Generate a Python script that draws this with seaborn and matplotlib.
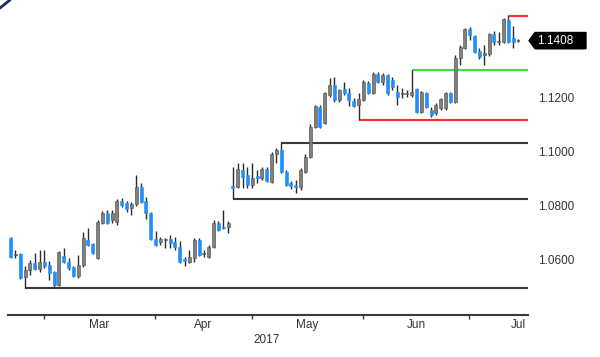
import numpy as np
import pandas as pd
import seaborn as sns
import matplotlib.pyplot as plt
import matplotlib.transforms as mtransforms
from matplotlib.patches import Polygon
from matplotlib.lines import Line2D

# Daily OHLC candles
opens = [1.0680, 1.0617, 1.0621, 1.0536, 1.0562, 1.0587, 1.0565, 1.0591, 1.0580, 1.0554,
         1.0506, 1.0613, 1.0591, 1.0573, 1.0539, 1.0580, 1.0672, 1.0658, 1.0606, 1.0735,
         1.0772, 1.0746, 1.0739, 1.0816, 1.0809, 1.0790, 1.0805, 1.0868, 1.0816, 1.0772,
         1.0676, 1.0665, 1.0672, 1.0676, 1.0665, 1.0646, 1.0602, 1.0591, 1.0606, 1.0672,
         1.0621, 1.0610, 1.0646, 1.0735, 1.0720, 1.0720, 1.0872, 1.0868, 1.0931, 1.0912,
         1.0875, 1.0908, 1.0901, 1.0934, 1.0886, 1.0990, 1.1004, 1.0923, 1.0883, 1.0875,
         1.0868, 1.0923, 1.0979, 1.1089, 1.1163, 1.1104, 1.1207, 1.1244, 1.1189, 1.1230,
         1.1215, 1.1185, 1.1170, 1.1189, 1.1252, 1.1215, 1.1285, 1.1255, 1.1281, 1.1263,
         1.1218, 1.1211, 1.1211, 1.1207, 1.1230, 1.1145, 1.1215, 1.1152, 1.1141, 1.1159,
         1.1159, 1.1215, 1.1182, 1.1344, 1.1381, 1.1451, 1.1425, 1.1370, 1.1355, 1.1359,
         1.1432, 1.1403, 1.1403, 1.1484, 1.1418, 1.1407]
closes = [1.0610, 1.0621, 1.0532, 1.0562, 1.0587, 1.0565, 1.0591, 1.0576, 1.0551, 1.0506,
          1.0628, 1.0591, 1.0569, 1.0539, 1.0580, 1.0680, 1.0654, 1.0624, 1.0739, 1.0772,
          1.0735, 1.0772, 1.0816, 1.0801, 1.0787, 1.0805, 1.0868, 1.0812, 1.0772, 1.0676,
          1.0654, 1.0676, 1.0676, 1.0661, 1.0646, 1.0591, 1.0595, 1.0610, 1.0672, 1.0617,
          1.0624, 1.0646, 1.0735, 1.0709, 1.0717, 1.0735, 1.0864, 1.0934, 1.0905, 1.0875,
          1.0901, 1.0901, 1.0934, 1.0890, 1.0990, 1.1004, 1.0923, 1.0875, 1.0872, 1.0868,
          1.0931, 1.0979, 1.1089, 1.1167, 1.1089, 1.1215, 1.1244, 1.1189, 1.1226, 1.1215,
          1.1189, 1.1167, 1.1193, 1.1255, 1.1215, 1.1285, 1.1255, 1.1281, 1.1215, 1.1237,
          1.1200, 1.1215, 1.1215, 1.1218, 1.1145, 1.1218, 1.1163, 1.1134, 1.1170, 1.1193,
          1.1215, 1.1182, 1.1344, 1.1385, 1.1451, 1.1429, 1.1366, 1.1348, 1.1362, 1.1432,
          1.1403, 1.1407, 1.1488, 1.1403, 1.1403, 1.1408]
highs = [1.0683, 1.0635, 1.0624, 1.0576, 1.0599, 1.0624, 1.0635, 1.0635, 1.0595, 1.0558,
         1.0632, 1.0643, 1.0606, 1.0576, 1.0617, 1.0702, 1.0717, 1.0661, 1.0746, 1.0779,
         1.0783, 1.0783, 1.0823, 1.0827, 1.0816, 1.0812, 1.0912, 1.0883, 1.0831, 1.0776,
         1.0706, 1.0683, 1.0680, 1.0691, 1.0683, 1.0669, 1.0610, 1.0635, 1.0680, 1.0680,
         1.0635, 1.0654, 1.0746, 1.0742, 1.0783, 1.0742, 1.0942, 1.0956, 1.0956, 1.0942,
         1.0956, 1.0931, 1.0942, 1.0942, 1.0997, 1.1012, 1.1030, 1.0931, 1.0890, 1.0894,
         1.0938, 1.0990, 1.1100, 1.1170, 1.1170, 1.1218, 1.1270, 1.1274, 1.1230, 1.1255,
         1.1233, 1.1196, 1.1215, 1.1263, 1.1259, 1.1292, 1.1292, 1.1289, 1.1285, 1.1274,
         1.1244, 1.1233, 1.1226, 1.1300, 1.1233, 1.1222, 1.1218, 1.1163, 1.1178, 1.1196,
         1.1218, 1.1218, 1.1355, 1.1392, 1.1455, 1.1458, 1.1429, 1.1381, 1.1392, 1.1436,
         1.1444, 1.1440, 1.1492, 1.1499, 1.1462, 1.1414]
lows = [1.0606, 1.0606, 1.0528, 1.0495, 1.0543, 1.0562, 1.0554, 1.0569, 1.0525, 1.0495,
        1.0502, 1.0587, 1.0562, 1.0536, 1.0532, 1.0573, 1.0650, 1.0621, 1.0602, 1.0731,
        1.0731, 1.0735, 1.0728, 1.0794, 1.0776, 1.0765, 1.0798, 1.0809, 1.0750, 1.0672,
        1.0650, 1.0654, 1.0643, 1.0643, 1.0635, 1.0587, 1.0576, 1.0587, 1.0591, 1.0613,
        1.0610, 1.0606, 1.0643, 1.0706, 1.0713, 1.0698, 1.0823, 1.0864, 1.0864, 1.0864,
        1.0864, 1.0883, 1.0894, 1.0886, 1.0883, 1.0956, 1.0920, 1.0872, 1.0861, 1.0846,
        1.0857, 1.0920, 1.0975, 1.1086, 1.1086, 1.1100, 1.1200, 1.1182, 1.1182, 1.1207,
        1.1167, 1.1163, 1.1115, 1.1185, 1.1211, 1.1211, 1.1252, 1.1244, 1.1207, 1.1226,
        1.1170, 1.1196, 1.1200, 1.1200, 1.1141, 1.1141, 1.1159, 1.1126, 1.1134, 1.1152,
        1.1152, 1.1178, 1.1178, 1.1318, 1.1377, 1.1410, 1.1362, 1.1340, 1.1318, 1.1351,
        1.1392, 1.1392, 1.1399, 1.1399, 1.1381, 1.1403]
dates = pd.bdate_range('2017-02-17', periods=len(opens))

# Support / resistance levels: start candle, price, colour
level_start = [3, 46, 56, 72, 83, 103]
level_value = [1.0495, 1.0823, 1.1030, 1.1115, 1.1300, 1.1499]
level_color = ['#3a3a3a', '#3a3a3a', '#3a3a3a', '#ff2b2b', '#3ee03e', '#ff2b2b']

ytick_values = [1.06, 1.08, 1.10, 1.12]
last_price = 1.1408
year_label = '2017'

df = pd.DataFrame({'date': dates, 'open': opens, 'high': highs,
                   'low': lows, 'close': closes})
df['x'] = np.arange(len(df))
df['up'] = df['close'] >= df['open']
df['body_lo'] = df[['open', 'close']].min(axis=1)
df['body_h'] = (df['close'] - df['open']).abs().clip(lower=0.0002)

sns.set_theme(style='white')
plt.rcParams['font.family'] = ['Liberation Sans', 'DejaVu Sans']
fs = 8.5

fig = plt.figure(figsize=(6, 3.57), dpi=100)
ax = fig.add_axes([8 / 600, 42 / 357, 520 / 600, 310 / 357])
x_left, x_right = -0.55, 107.07
ax.set_xlim(x_left, x_right)
ax.set_ylim(1.03956, 1.15395)

# level lines
ax.hlines(level_value, level_start, x_right, colors=level_color, lw=1.5, zorder=1)

# candles
ax.vlines(df['x'], df['low'], df['high'], color='#2b2b2b', lw=1.0, zorder=2)
body_col = np.where(df['up'], '#808080', '#1e8fff')
edge_col = np.where(df['up'], '#4a4a4a', '#1e8fff')
ax.bar(df['x'], df['body_h'], bottom=df['body_lo'], width=0.62,
       color=body_col, edgecolor=edge_col, linewidth=0.4, zorder=3)

# x axis: month boundaries as ticks, month names centred between them
month = df['date'].dt.month
firsts = df.index[month != month.shift()][1:]
tick_pos = [i - 1.1 for i in firsts]
mid_pos = [(a + b) / 2 for a, b in zip(tick_pos[:-1], tick_pos[1:])]
mid_names = [df['date'][i].strftime('%b') for i in firsts[:-1]]
ax.set_xticks(tick_pos)
ax.set_xticklabels([])
ax.set_xticks(mid_pos, minor=True)
ax.set_xticklabels(mid_names, minor=True)
ax.tick_params(axis='x', which='major', direction='out', length=3, width=1,
               color='#3a3a3a', bottom=True)
ax.tick_params(axis='x', which='minor', length=0, pad=3, labelsize=fs,
               labelcolor='#333333')
ax.text(0.997, -0.033, df['date'].iloc[-1].strftime('%b'), transform=ax.transAxes,
        ha='right', va='center', fontsize=fs, color='#333333')
ax.text(0.498, -0.082, year_label, transform=ax.transAxes, ha='center',
        va='center', fontsize=fs, color='#333333')

# y axis on the right
ax.yaxis.tick_right()
ax.set_yticks(ytick_values)
ax.set_yticklabels([f'{v:.4f}' for v in ytick_values])
ax.tick_params(axis='y', length=0, pad=7, labelsize=fs, labelcolor='#333333')

sns.despine(ax=ax, left=True, top=True, right=True)
ax.spines['bottom'].set_color('#3a3a3a')
ax.spines['bottom'].set_linewidth(1.5)
ax.grid(False)

# last price tag
trans = mtransforms.blended_transform_factory(ax.transAxes, ax.transData)
h = 0.0030
tag = Polygon([(1.002, last_price), (1.0135, last_price + h), (1.1115, last_price + h),
               (1.1115, last_price - h), (1.0135, last_price - h)],
              closed=True, fc='black', ec='black', transform=trans, clip_on=False)
ax.add_patch(tag)
ax.text(1.017, last_price, f'{last_price:.4f}', transform=trans, ha='left',
        va='center', fontsize=fs, color='white')

# small corner mark from the source screenshot
fig.add_artist(Line2D([0, 10 / 600], [1 - 8 / 357, 1], color='#1a2d6b', lw=2,
                      transform=fig.transFigure))

fig.savefig('out.png', dpi=100)
